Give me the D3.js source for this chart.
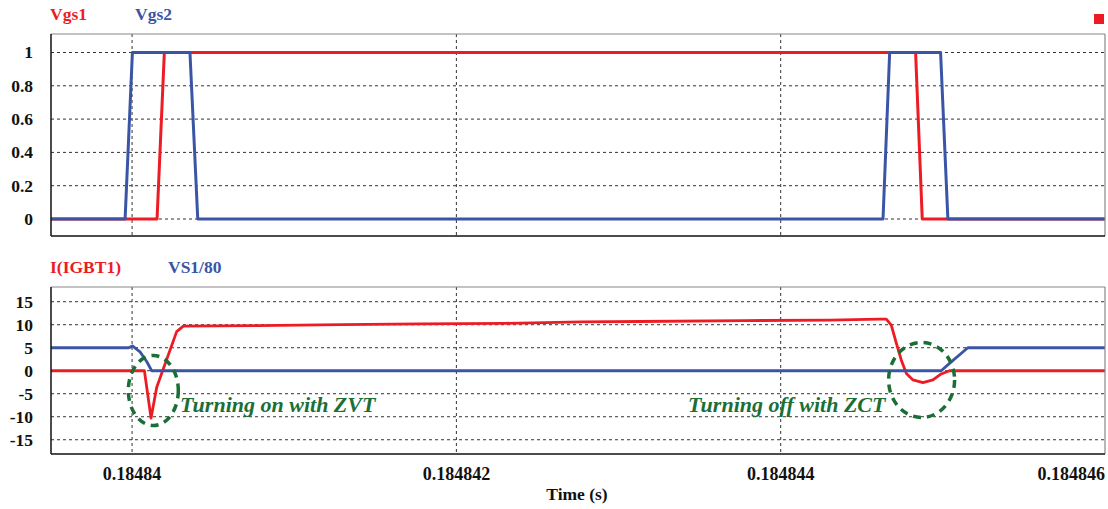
<!DOCTYPE html>
<html><head><meta charset="utf-8">
<script src="https://cdn.jsdelivr.net/npm/d3@7"></script>
<style>
body{margin:0;background:#fff;}
svg text{font-family:"Liberation Serif","Times New Roman",serif;font-weight:bold;}
</style></head>
<body><svg id="c" width="1108" height="509"></svg>
<script>
// ---- data (time in seconds) ----
const xTicks = [0.18484, 0.184842, 0.184844, 0.184846];
const xTickLabels = ["0.18484", "0.184842", "0.184844", "0.184846"];
const topTicks = [0, 0.2, 0.4, 0.6, 0.8, 1];
const topTickLabels = ["0", "0.2", "0.4", "0.6", "0.8", "1"];
const botTicks = [-15, -10, -5, 0, 5, 10, 15];
const botTickLabels = ["-15", "-10", "-5", "0", "5", "10", "15"];

const vgs1T = [0.1848395, 0.184840154, 0.184840199, 0.184844832, 0.184844873, 0.184846];
const vgs1V = [0, 0, 1, 1, 0, 0];

const vgs2T = [0.1848395, 0.184839957, 0.184840002, 0.184840357, 0.184840405, 0.184844631, 0.184844672, 0.184844986, 0.184845031, 0.184846];
const vgs2V = [0, 0, 1, 1, 0, 0, 1, 1, 0, 0];

const igbtT = [0.1848395, 0.184840076, 0.184840117, 0.184840152, 0.184840275, 0.184840316, 0.184840777, 0.184841292, 0.184841775, 0.184842299, 0.184842772, 0.184843131, 0.184843778, 0.184844302, 0.184844610, 0.184844651, 0.184844682, 0.184844713, 0.184844744, 0.184844775, 0.184844816, 0.184844877, 0.184844939, 0.184844990, 0.184845041, 0.184846];
const igbtV = [0, 0, -10.3, -3.6, 8.5, 9.7, 9.8, 10.0, 10.2, 10.3, 10.6, 10.7, 10.9, 11.0, 11.2, 11.2, 9.9, 6.0, 2.3, -0.6, -2.0, -2.6, -2.0, -0.7, 0, 0];

const vsT = [0.1848395, 0.184839979, 0.184840002, 0.184840049, 0.184840090, 0.184840121, 0.184844990, 0.184845041, 0.184845154, 0.184846];
const vsV = [5.0, 5.0, 5.4, 4.1, 2.0, 0, 0, 1.6, 5.0, 5.0];

const topLegend = ["Vgs1", "Vgs2"];
const botLegend = ["I(IGBT1)", "VS1/80"];
const notes = ["Turning on with ZVT", "Turning off with ZCT"];
// ellipse centres (time, value)
const ellT = [0.184840131, 0.184844869];
const ellV = [-4.3, -2.0];

// ---- drawing ----
const RED = "#ed1c24", BLUE = "#3a55a5", GREEN = "#1c6e37";
const svg = d3.select("#c");
const L = 51, R = 1105;
const x = d3.scaleLinear().domain([0.1848395, 0.184846]).range([L, R]);
const yTop = d3.scaleLinear().domain([-0.102, 1.111]).range([236, 34]);
const yBot = d3.scaleLinear().domain([-18.1, 18.2]).range([454, 287]);

function panel(y, ticks, labels) {
  const g = svg.append("g");
  g.selectAll(".hg").data(ticks).enter().append("line")
    .attr("x1", L).attr("x2", R).attr("y1", d => y(d)).attr("y2", d => y(d))
    .attr("stroke", "#333").attr("stroke-width", 1).attr("stroke-dasharray", "3,3");
  g.selectAll(".vg").data(xTicks.slice(0, 3)).enter().append("line")
    .attr("x1", d => x(d)).attr("x2", d => x(d)).attr("y1", y.range()[1]).attr("y2", y.range()[0])
    .attr("stroke", "#333").attr("stroke-width", 1).attr("stroke-dasharray", "3,3");
  g.selectAll(".yl").data(ticks).enter().append("text")
    .attr("x", 33).attr("y", d => y(d) + 6).attr("text-anchor", "end")
    .attr("font-size", 17.5).attr("fill", "#111").text((d, i) => labels[i]);
  return g;
}
panel(yTop, topTicks, topTickLabels);
panel(yBot, botTicks, botTickLabels);

function frame(y) {
  const yt = y.range()[1], yb = y.range()[0];
  svg.append("line").attr("x1", L).attr("x2", R).attr("y1", yt).attr("y2", yt).attr("stroke", "#888").attr("stroke-width", 1.2);
  svg.append("line").attr("x1", R).attr("x2", R).attr("y1", yt).attr("y2", yb).attr("stroke", "#888").attr("stroke-width", 1.2);
  svg.append("line").attr("x1", L).attr("x2", L).attr("y1", yt).attr("y2", yb).attr("stroke", "#111").attr("stroke-width", 1.5);
  svg.append("line").attr("x1", L).attr("x2", R).attr("y1", yb).attr("y2", yb).attr("stroke", "#111").attr("stroke-width", 1.5);
}

function series(y, T, V, color, w) {
  const line = d3.line().x(d => x(d[0])).y(d => y(d[1]));
  svg.append("path").attr("d", line(T.map((t, i) => [t, V[i]])))
    .attr("fill", "none").attr("stroke", color).attr("stroke-width", w).attr("stroke-linejoin", "round");
}
series(yTop, vgs1T, vgs1V, RED, 3);
series(yTop, vgs2T, vgs2V, BLUE, 3);
series(yBot, igbtT, igbtV, RED, 2.8);
series(yBot, vsT, vsV, BLUE, 2.8);
frame(yTop);
frame(yBot);

// legends
svg.append("text").attr("x", 50).attr("y", 20).attr("font-size", 17.5).attr("fill", RED).text(topLegend[0]);
svg.append("text").attr("x", 135).attr("y", 20).attr("font-size", 17.5).attr("fill", BLUE).text(topLegend[1]);
svg.append("text").attr("x", 50).attr("y", 273).attr("font-size", 17.5).attr("fill", RED).text(botLegend[0]);
svg.append("text").attr("x", 168).attr("y", 273).attr("font-size", 17.5).attr("fill", BLUE).text(botLegend[1]);
svg.append("rect").attr("x", 1094).attr("y", 14).attr("width", 10).attr("height", 10).attr("fill", RED);

// x tick labels
svg.selectAll(".xl").data(xTicks).enter().append("text")
  .attr("x", d => x(d)).attr("y", 480)
  .attr("text-anchor", (d, i) => i === xTicks.length - 1 ? "end" : "middle")
  .attr("font-size", 18).attr("fill", "#111").text((d, i) => xTickLabels[i]);
svg.append("text").attr("x", 577).attr("y", 500).attr("text-anchor", "middle")
  .attr("font-size", 17.5).attr("fill", "#111").text("Time (s)");

// annotation ellipses
const ellR = [[25, 35], [33, 37.5]];
svg.selectAll(".el").data(ellT).enter().append("ellipse")
  .attr("cx", d => x(d)).attr("cy", (d, i) => yBot(ellV[i]))
  .attr("rx", (d, i) => ellR[i][0]).attr("ry", (d, i) => ellR[i][1])
  .attr("fill", "none").attr("stroke", GREEN).attr("stroke-width", 3.5).attr("stroke-dasharray", "8,6");

svg.append("text").attr("x", 180).attr("y", 412).attr("font-size", 22).attr("font-style", "italic")
  .attr("fill", GREEN).text(notes[0]);
svg.append("text").attr("x", 688).attr("y", 412).attr("font-size", 22).attr("font-style", "italic")
  .attr("fill", GREEN).text(notes[1]);
</script></body></html>
